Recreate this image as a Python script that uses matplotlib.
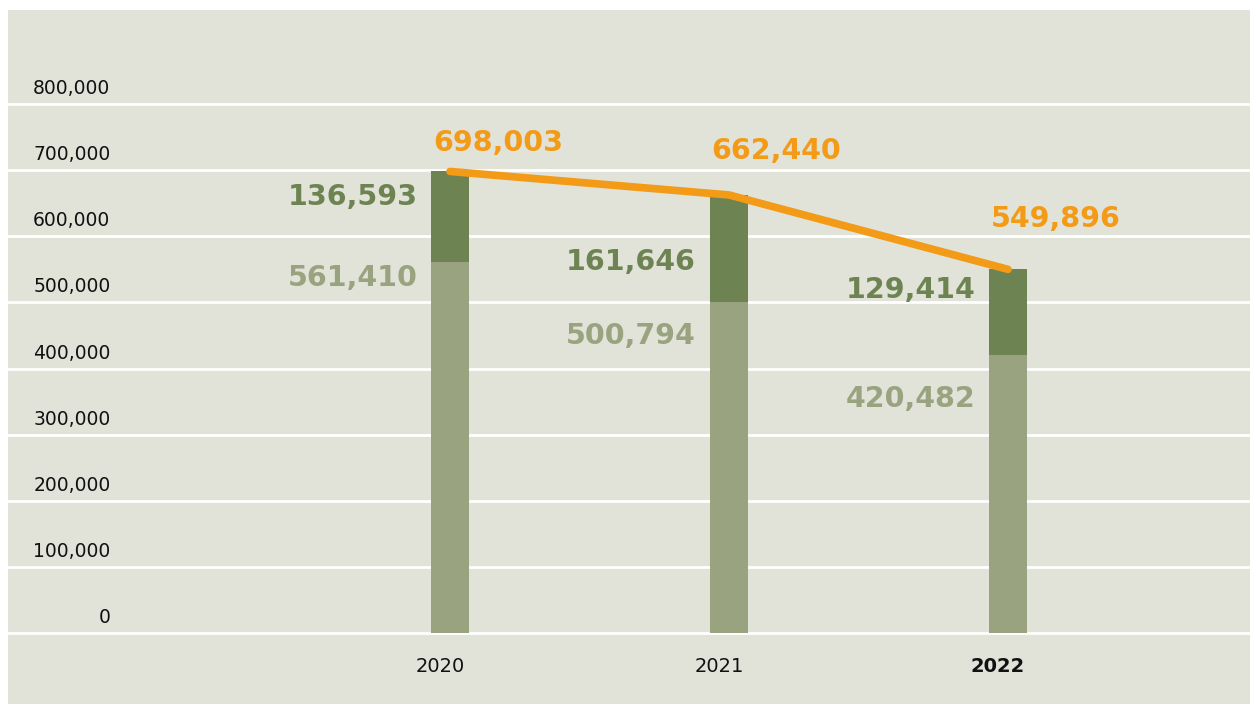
import matplotlib.pyplot as plt

years = ['2020', '2021', '2022']
base_values = [561410, 500794, 420482]
top_values = [136593, 161646, 129414]
totals = [698003, 662440, 549896]
y_ticks = [0, 100000, 200000, 300000, 400000, 500000, 600000, 700000, 800000]

bg = '#E1E2D8'
light_green = '#9AA37F'
dark_green = '#6E8352'
orange = '#F39A17'

# label offsets in pixels from the top of each segment
top_offsets = [(-32, -26), (-33, -67), (-33, -21)]
base_offsets = [(-32, -16), (-33, -34), (-33, -44)]
total_offsets = [(-17, 28), (-18, 44), (-17, 50)]

fig = plt.figure(figsize=(12.5, 7.04), dpi=100, facecolor='white')
# the panel itself is the axes area, with a white margin on top and left
ax = fig.add_axes([8 / 1250, 0, 1242 / 1250, 694 / 704])
ax.set_facecolor(bg)

x = [0, 1, 2]
ax.set_xlim(-1.584, 2.867)
ax.set_ylim(-107370, 942160)

for v in y_ticks:
    ax.axhline(v, color='white', lw=2, zorder=1)
    ax.annotate(f'{v:,}', (0.0825, v), xycoords=ax.get_yaxis_transform(),
                xytext=(0, 6), textcoords='offset pixels',
                ha='right', va='bottom', fontsize=13.5, color='#111111')

w = 0.136
ax.bar(x, base_values, width=w, color=light_green, zorder=2)
ax.bar(x, top_values, width=w, bottom=base_values, color=dark_green, zorder=2)
ax.plot(x, totals, color=orange, lw=5.5, solid_capstyle='round', zorder=3)

for i in x:
    ax.annotate(f'{top_values[i]:,}', (i, totals[i]), xytext=top_offsets[i],
                textcoords='offset pixels', ha='right', va='center',
                fontsize=20.5, fontweight='bold', color=dark_green)
    ax.annotate(f'{base_values[i]:,}', (i, base_values[i]), xytext=base_offsets[i],
                textcoords='offset pixels', ha='right', va='center',
                fontsize=20.5, fontweight='bold', color=light_green)
    ax.annotate(f'{totals[i]:,}', (i, totals[i]), xytext=total_offsets[i],
                textcoords='offset pixels', ha='left', va='center',
                fontsize=20.5, fontweight='bold', color=orange)
    ax.annotate(years[i], (i, 0), xytext=(-10, -33), textcoords='offset pixels',
                ha='center', va='center', fontsize=14, color='#111111',
                fontweight='bold' if i == 2 else 'normal')

ax.set_xticks([])
ax.set_yticks([])
for s in ax.spines.values():
    s.set_visible(False)

fig.savefig('out.png', dpi=100, facecolor='white')
